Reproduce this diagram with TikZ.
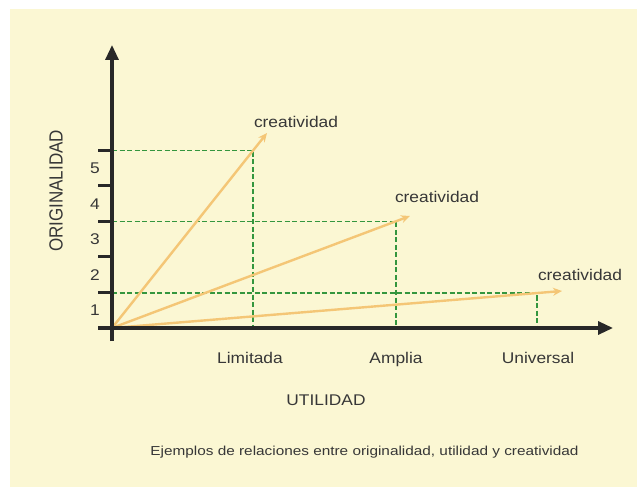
\documentclass[tikz,border=0pt]{standalone}
\usepackage{fontspec}
\setmainfont{Liberation Sans}
\usetikzlibrary{arrows.meta}
\definecolor{cream}{RGB}{251,247,211}
\definecolor{axisgray}{RGB}{40,40,40}
\definecolor{vecorange}{RGB}{244,198,118}
\definecolor{guidegreen}{RGB}{52,150,62}
\definecolor{textgray}{RGB}{55,55,55}
\tikzset{
  axisline/.style={line width=3.2pt, draw=axisgray, -{Triangle[length=15pt,width=13pt]}},
  tickline/.style={line width=3pt, draw=axisgray},
  guideline/.style={line width=1.4pt, draw=guidegreen, dash pattern=on 5pt off 2.5pt},
  vecline/.style={line width=2.4pt, draw=vecorange, -{Stealth[length=9pt,width=8pt]}},
  lbl/.style={text=textgray, font=\fontsize{15.5}{18}\selectfont, xscale=1.12, inner sep=0pt},
  smalllbl/.style={text=textgray, font=\fontsize{13}{15}\selectfont, xscale=1.18, inner sep=0pt},
}
\begin{document}
\begin{tikzpicture}[x=1pt,y=-1pt]
\useasboundingbox (0,0) rectangle (640,489);
\fill[white] (0,0) rectangle (640,489);
\fill[cream] (10,9) rectangle (637,487);
% axis points
\coordinate (O) at (112,328);
\coordinate (ytop) at (112,45);
\coordinate (ybot) at (112,341);
\coordinate (xleft) at (98,328);
\coordinate (xright) at (613,328);
% levels, corners and feet
\coordinate (l1) at (112,150.5);
\coordinate (l2) at (112,221.5);
\coordinate (l3) at (112,293);
\coordinate (c1) at (253,150.5);
\coordinate (c2) at (396,221.5);
\coordinate (c3) at (537,293);
\coordinate (f1) at (253,328);
\coordinate (f2) at (396,328);
\coordinate (f3) at (537,328);
% arrow tips
\coordinate (t1) at (267,133);
\coordinate (t2) at (410,216);
\coordinate (t3) at (562,291);
% green guides
\draw[guideline] (l1) -- (c1) -- (f1);
\draw[guideline] (l2) -- (c2) -- (f2);
\draw[guideline] (l3) -- (c3) -- (f3);
% vectors
\draw[vecline] (O) -- (t1);
\draw[vecline] (O) -- (t2);
\draw[vecline] (O) -- (t3);
% axes
\draw[axisline] (ybot) -- (ytop);
\draw[axisline] (xleft) -- (xright);
\foreach \k in {1,...,5}{
  \draw[tickline] (98,{328-35.5*\k}) -- (112,{328-35.5*\k});
  \node[lbl] (n\k) at (95,{328-35.5*(\k-0.5)}) {\k};
}
% labels
\node[lbl, anchor=base] (cr1) at (296,127.5) {creatividad};
\node[lbl, anchor=base] (cr2) at (437,203) {creatividad};
\node[lbl, anchor=base] (cr3) at (580,280) {creatividad};
\node[lbl, anchor=base] (lim) at (250,363) {Limitada};
\node[lbl, anchor=base] (amp) at (396,363) {Amplia};
\node[lbl, anchor=base] (uni) at (538,363) {Universal};
\node[lbl, anchor=base] (util) at (326,405.5) {UTILIDAD};
\node[text=textgray, font=\fontsize{17}{19}\selectfont, inner sep=0pt, rotate=90] (orig) at (56,191) {\scalebox{1}[1.12]{ORIGINALIDAD}};
\node[smalllbl] (cap) at (364.5,452) {Ejemplos de relaciones entre originalidad, utilidad y creatividad};
\end{tikzpicture}
\end{document}
